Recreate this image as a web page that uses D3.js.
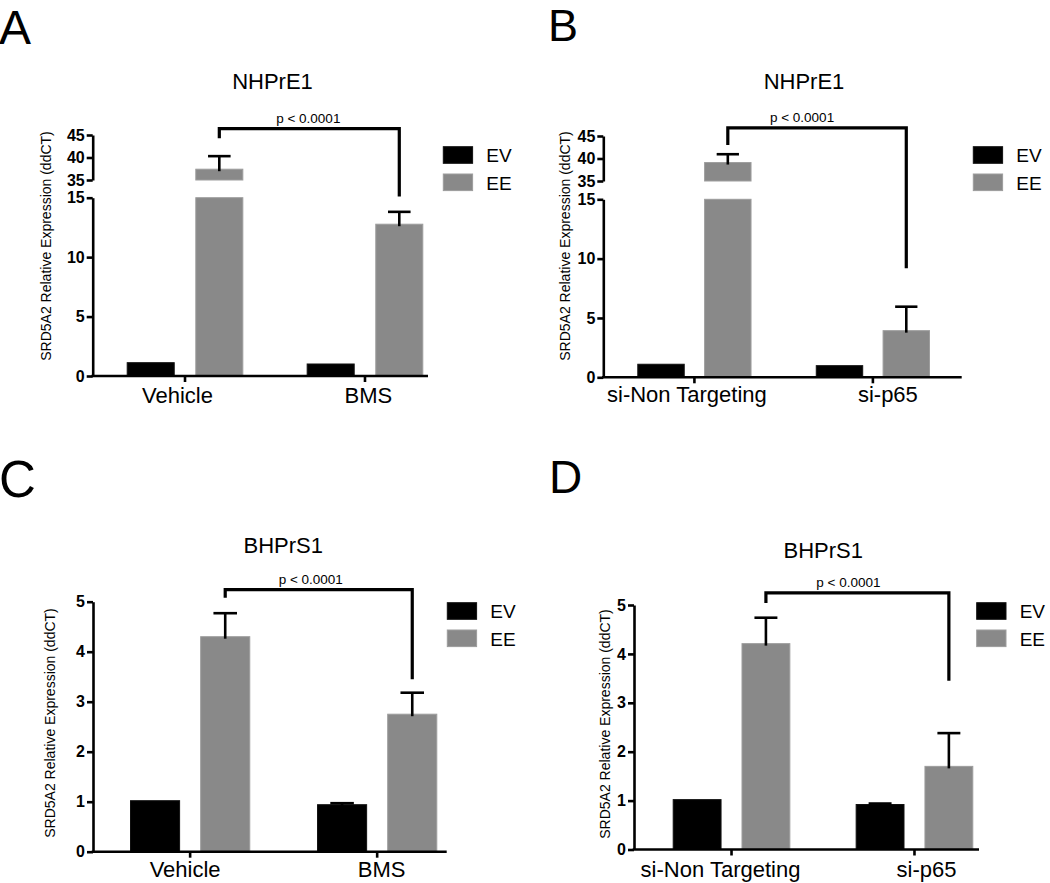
<!DOCTYPE html>
<html><head><meta charset="utf-8">
<script src="https://cdn.jsdelivr.net/npm/d3@7"></script>
<style>
body{margin:0;background:#fff}
svg{display:block}
text{font-family:"Liberation Sans",Arial,Helvetica,sans-serif;fill:#000}
</style>
</head><body>
<svg id="chart" width="1050" height="883"></svg>
<script>
// ---------------- DATA ----------------
const seriesNames = ["EV", "EE"];
const categoriesAC = ["Vehicle", "BMS"];
const categoriesBD = ["si-Non Targeting", "si-p65"];
const panelLetters = ["A", "B", "C", "D"];
const panelTitles = ["NHPrE1", "NHPrE1", "BHPrS1", "BHPrS1"];
const yAxisTitle = "SRD5A2 Relative Expression (ddCT)";
const pLabel = "p < 0.0001";
const ticksBrokenLow = [0, 5, 10, 15];
const ticksBrokenHigh = [35, 40, 45];
const ticksFull = [0, 1, 2, 3, 4, 5];

// means and upward error (SEM) per category
const evA = [1.12, 1.01], evErrA = [0, 0],    eeA = [37.4, 12.77], eeErrA = [2.9, 1.04];
const evB = [1.10, 0.98], evErrB = [0, 0],    eeB = [39.1, 3.93],  eeErrB = [1.85, 2.02];
const evC = [1.02, 0.94], evErrC = [0, 0.03], eeC = [4.30, 2.75],  eeErrC = [0.47, 0.43];
const evD = [1.02, 0.92], evErrD = [0, 0.02], eeD = [4.21, 1.70],  eeErrD = [0.53, 0.68];

// significance bracket: [top, left leg end, right leg end] in data units
const bracketA = [46.4, 44.3, 15.1];
const bracketB = [46.8, 43.0, 9.2];
const bracketC = [5.24, 5.08, 3.45];
const bracketD = [5.25, 5.04, 3.45];

// ---------------- LAYOUT ----------------
const panels = [
  { cats: categoriesAC, ev: evA, evErr: evErrA, ee: eeA, eeErr: eeErrA, bracket: bracketA,
    segments: [{ d: [0, 15], r: [376, 197.7], ticks: ticksBrokenLow }, { d: [35, 45], r: [180, 135], ticks: ticksBrokenHigh }],
    yAxisX: 92.7, xAxisEnd: 428, band: [126.7, 423.3], groupPad: 0.352, subPad: 0.3,
    title: [272.5, 89], letter: [-1, 44, 48], ylab: [46, 246], legend: [443.3, 146.7],
    labelShift: [-7.5, 3.4], labelDy: 27, pShift: -1 },
  { cats: categoriesBD, ev: evB, evErr: evErrB, ee: eeB, eeErr: eeErrB, bracket: bracketB,
    segments: [{ d: [0, 15], r: [377.3, 199.3], ticks: ticksBrokenLow }, { d: [35, 45], r: [181, 136], ticks: ticksBrokenHigh }],
    yAxisX: 603.3, xAxisEnd: 961.7, band: [637.3, 930], groupPad: 0.36, subPad: 0.29,
    title: [804, 89], letter: [548, 41, 45], ylab: [564.5, 246], legend: [973.3, 146.7],
    labelShift: [-7.5, 15], labelDy: 24.5, pShift: -15 },
  { cats: categoriesAC, ev: evC, evErr: evErrC, ee: eeC, eeErr: eeErrC, bracket: bracketC,
    segments: [{ d: [0, 5], r: [851.7, 601.7], ticks: ticksFull }],
    yAxisX: 93, xAxisEnd: 446.7, band: [130, 437.3], groupPad: 0.357, subPad: 0.286,
    title: [283.3, 553], letter: [-1, 497, 51], ylab: [49.5, 723], legend: [447.3, 602.7],
    labelShift: [-5, 4.4], labelDy: 25, pShift: -8 },
  { cats: categoriesBD, ev: evD, evErr: evErrD, ee: eeD, eeErr: eeErrD, bracket: bracketD,
    segments: [{ d: [0, 5], r: [849.5, 605], ticks: ticksFull }],
    yAxisX: 634, xAxisEnd: 979, band: [672.7, 973.3], groupPad: 0.357, subPad: 0.29,
    title: [823.3, 558], letter: [549, 493, 46], ylab: [604.5, 724], legend: [976.7, 602.7],
    labelShift: [-11, 12], labelDy: 27, pShift: -9 }
];

const colors = { EV: "#000000", EE: "#898989" };
const strokes = { EV: "#111111", EE: "#9d9d9d" };

const svg = d3.select("#chart");

panels.forEach((cfg, pi) => {
  const g = svg.append("g");
  const segs = cfg.segments.map(s => ({ d: s.d, ticks: s.ticks, sc: d3.scaleLinear().domain(s.d).range(s.r) }));
  const y = v => {
    let s = segs[0];
    segs.forEach(t => { if (v >= t.d[0]) s = t; });
    return s.sc(v);
  };
  const y0 = y(0);

  const x0 = d3.scaleBand().domain(cfg.cats).range(cfg.band).paddingInner(cfg.groupPad).paddingOuter(0);
  const x1 = d3.scaleBand().domain(seriesNames).range([0, x0.bandwidth()]).paddingInner(cfg.subPad).paddingOuter(0);
  const bw = x1.bandwidth();

  const rows = [];
  cfg.cats.forEach((c, i) => {
    rows.push({ cat: c, s: "EV", v: cfg.ev[i], e: cfg.evErr[i] });
    rows.push({ cat: c, s: "EE", v: cfg.ee[i], e: cfg.eeErr[i] });
  });

  // bars (split across axis segments)
  segs.forEach(s => {
    g.append("g").selectAll("rect")
      .data(rows.filter(r => r.v > s.d[0]))
      .join("rect")
      .attr("x", r => x0(r.cat) + x1(r.s) + 0.5)
      .attr("width", bw - 1)
      .attr("y", r => s.sc(Math.min(r.v, s.d[1])))
      .attr("height", r => s.sc(s.d[0]) - s.sc(Math.min(r.v, s.d[1])))
      .attr("fill", r => colors[r.s])
      .attr("stroke", r => strokes[r.s])
      .attr("stroke-width", 1);
  });

  // error bars
  const capW = bw * 0.47;
  const eb = g.append("g").attr("stroke", "#000").attr("stroke-width", 2.6).attr("fill", "none");
  rows.filter(r => r.e > 0).forEach(r => {
    const cx = x0(r.cat) + x1(r.s) + bw / 2;
    eb.append("line").attr("x1", cx).attr("x2", cx).attr("y1", y(r.v) + 2).attr("y2", y(r.v + r.e));
    eb.append("line").attr("x1", cx - capW / 2).attr("x2", cx + capW / 2).attr("y1", y(r.v + r.e)).attr("y2", y(r.v + r.e));
  });

  // y axis segments
  segs.forEach(s => {
    const ax = g.append("g").attr("transform", `translate(${cfg.yAxisX},0)`)
      .call(d3.axisLeft(s.sc).tickValues(s.ticks).tickFormat(d3.format("d"))
        .tickSize(6).tickSizeOuter(0).tickPadding(2));
    ax.select(".domain").attr("stroke", "#000").attr("stroke-width", 2.6);
    ax.selectAll(".tick line").attr("stroke", "#000").attr("stroke-width", 2.6);
    ax.selectAll(".tick text")
      .style("font-size", "16px").style("font-weight", "bold")
      .style("font-family", "'Liberation Sans', Arial, sans-serif").style("fill", "#000");
  });

  // x axis
  const xa = g.append("g").attr("transform", `translate(0,${y0})`)
    .call(d3.axisBottom(x0).tickSize(6).tickSizeOuter(0).tickFormat(""));
  xa.select(".domain").remove();
  xa.selectAll(".tick line").attr("stroke", "#000").attr("stroke-width", 2.6);
  g.append("line").attr("x1", cfg.yAxisX - 1.3).attr("x2", cfg.xAxisEnd)
    .attr("y1", y0).attr("y2", y0).attr("stroke", "#000").attr("stroke-width", 2.6);
  g.append("g").selectAll("text").data(cfg.cats).join("text")
    .attr("x", (c, i) => x0(c) + x0.bandwidth() / 2 + cfg.labelShift[i])
    .attr("y", y0 + cfg.labelDy)
    .attr("text-anchor", "middle").style("font-size", "22px")
    .text(c => c);

  // significance bracket
  const xL = x0(cfg.cats[0]) + x1("EE") + bw / 2;
  const xR = x0(cfg.cats[1]) + x1("EE") + bw / 2;
  const [bt, bl, br] = cfg.bracket;
  g.append("path")
    .attr("d", `M${xL},${y(bl)}V${y(bt)}H${xR}V${y(br)}`)
    .attr("fill", "none").attr("stroke", "#000").attr("stroke-width", 3.2)
    .attr("stroke-linejoin", "miter");
  g.append("text").attr("x", (xL + xR) / 2 + cfg.pShift).attr("y", y(bt) - 6)
    .attr("text-anchor", "middle").style("font-size", "13.5px").text(pLabel);

  // title
  g.append("text").attr("x", cfg.title[0]).attr("y", cfg.title[1])
    .attr("text-anchor", "middle").style("font-size", "22px").text(panelTitles[pi]);

  // panel letter
  g.append("text").attr("x", cfg.letter[0]).attr("y", cfg.letter[1])
    .style("font-size", cfg.letter[2] + "px").text(panelLetters[pi]);

  // y axis title
  g.append("text")
    .attr("transform", `translate(${cfg.ylab[0]},${cfg.ylab[1]}) rotate(-90)`)
    .attr("text-anchor", "middle").attr("dominant-baseline", "central")
    .style("font-size", "14px").text(yAxisTitle);

  // legend
  const lg = g.append("g").attr("transform", `translate(${cfg.legend[0]},${cfg.legend[1]})`);
  seriesNames.forEach((s, i) => {
    lg.append("rect").attr("x", 0).attr("y", i * 27.3).attr("width", 29.3).attr("height", 16.6)
      .attr("fill", colors[s]).attr("stroke", strokes[s]).attr("stroke-width", 1);
    lg.append("text").attr("x", 43).attr("y", i * 27.3 + 15.6).style("font-size", "19px").text(s);
  });
});
</script>
</body></html>
